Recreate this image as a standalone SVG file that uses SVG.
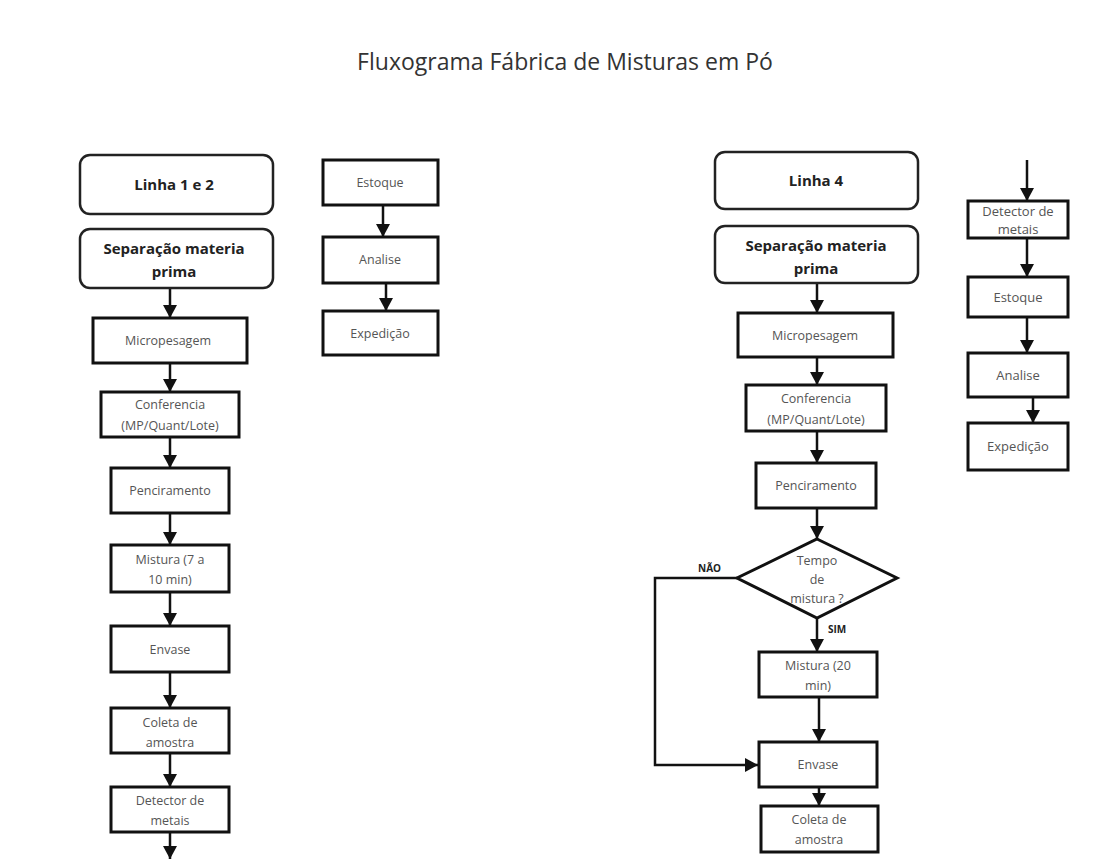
<svg xmlns="http://www.w3.org/2000/svg" width="1110" height="865" viewBox="0 0 1110 865">
<defs>
<style>
.box{fill:#fff;stroke:#111;stroke-width:3}
.rbox{fill:#fff;stroke:#222;stroke-width:2.5}
.t{font-family:"Open Sans","Liberation Sans",sans-serif;font-size:12.5px;fill:#555;text-anchor:middle}
.t2{font-family:"Open Sans","Liberation Sans",sans-serif;font-size:13px;fill:#555;text-anchor:middle}
.h{font-family:"Open Sans","Liberation Sans",sans-serif;font-size:15px;font-weight:bold;fill:#222;text-anchor:middle}
.lbl{font-family:"Open Sans","Liberation Sans",sans-serif;font-size:10px;font-weight:bold;fill:#222}
.c{fill:none;stroke:#111;stroke-width:2.5}
.title{font-family:"Open Sans","Liberation Sans",sans-serif;font-size:23px;fill:#333;text-anchor:middle}
</style>
<marker id="ah" markerUnits="userSpaceOnUse" markerWidth="14" markerHeight="14" refX="13" refY="7" orient="auto">
<path d="M0,0 L13,7 L0,14 Z" fill="#111"/>
</marker>
</defs>
<rect width="1110" height="865" fill="#fff"/>
<text class="title" x="565" y="70">Fluxograma Fábrica de Misturas em Pó</text>

<g id="connectors">
<line class="c" x1="170" y1="288" x2="170" y2="318" marker-end="url(#ah)"/>
<line class="c" x1="170" y1="363" x2="170" y2="392" marker-end="url(#ah)"/>
<line class="c" x1="170" y1="437" x2="170" y2="468" marker-end="url(#ah)"/>
<line class="c" x1="170" y1="513" x2="170" y2="545" marker-end="url(#ah)"/>
<line class="c" x1="170" y1="592" x2="170" y2="626" marker-end="url(#ah)"/>
<line class="c" x1="170" y1="672" x2="170" y2="708" marker-end="url(#ah)"/>
<line class="c" x1="170" y1="753" x2="170" y2="787" marker-end="url(#ah)"/>
<line class="c" x1="170" y1="832" x2="170" y2="859" marker-end="url(#ah)"/>

<line class="c" x1="383" y1="205" x2="383" y2="237" marker-end="url(#ah)"/>
<line class="c" x1="386" y1="283" x2="386" y2="311" marker-end="url(#ah)"/>

<line class="c" x1="817" y1="283" x2="817" y2="313" marker-end="url(#ah)"/>
<line class="c" x1="817" y1="357" x2="817" y2="385" marker-end="url(#ah)"/>
<line class="c" x1="817" y1="431" x2="817" y2="463" marker-end="url(#ah)"/>
<line class="c" x1="817" y1="508" x2="817" y2="539" marker-end="url(#ah)"/>
<line class="c" x1="817" y1="618" x2="817" y2="652" marker-end="url(#ah)"/>
<line class="c" x1="819" y1="697" x2="819" y2="742" marker-end="url(#ah)"/>
<line class="c" x1="819" y1="787" x2="819" y2="806" marker-end="url(#ah)"/>
<polyline class="c" points="737,578 655,578 655,765 758,765" marker-end="url(#ah)"/>

<line class="c" x1="1027" y1="160" x2="1027" y2="201" marker-end="url(#ah)"/>
<line class="c" x1="1027" y1="238" x2="1027" y2="277" marker-end="url(#ah)"/>
<line class="c" x1="1027" y1="317" x2="1027" y2="353" marker-end="url(#ah)"/>
<line class="c" x1="1033" y1="397" x2="1033" y2="423" marker-end="url(#ah)"/>
</g>

<g id="linha12">
<rect class="rbox" x="80" y="155" width="193" height="59" rx="10"/>
<text class="h" x="174" y="190">Linha 1 e 2</text>
</g>
<g id="sep1">
<rect class="rbox" x="80" y="229" width="193" height="59" rx="10"/>
<text class="h" x="174" y="254">Separação materia</text>
<text class="h" x="174" y="277">prima</text>
</g>
<g id="micro1">
<rect class="box" x="93" y="318" width="154" height="45"/>
<text class="t" x="168" y="345">Micropesagem</text>
</g>
<g id="conf1">
<rect class="box" x="101" y="392" width="138" height="45"/>
<text class="t" x="170" y="409">Conferencia</text>
<text class="t" x="170" y="430">(MP/Quant/Lote)</text>
</g>
<g id="pen1">
<rect class="box" x="111" y="468" width="118" height="45"/>
<text class="t" x="170" y="495">Penciramento</text>
</g>
<g id="mist1">
<rect class="box" x="111" y="545" width="118" height="47"/>
<text class="t" x="170" y="564">Mistura (7 a</text>
<text class="t" x="170" y="584">10 min)</text>
</g>
<g id="env1">
<rect class="box" x="111" y="626" width="118" height="46"/>
<text class="t" x="170" y="654">Envase</text>
</g>
<g id="col1">
<rect class="box" x="111" y="708" width="118" height="45"/>
<text class="t" x="170" y="727">Coleta de</text>
<text class="t" x="170" y="747">amostra</text>
</g>
<g id="det1">
<rect class="box" x="111" y="787" width="118" height="45"/>
<text class="t" x="170" y="805">Detector de</text>
<text class="t" x="170" y="825">metais</text>
</g>

<g id="est1">
<rect class="box" x="323" y="160" width="115" height="45"/>
<text class="t" x="380" y="187">Estoque</text>
</g>
<g id="ana1">
<rect class="box" x="323" y="237" width="115" height="46"/>
<text class="t" x="380" y="264">Analise</text>
</g>
<g id="exp1">
<rect class="box" x="323" y="311" width="115" height="44"/>
<text class="t" x="380" y="338">Expedição</text>
</g>

<g id="linha4">
<rect class="rbox" x="715" y="152" width="203" height="57" rx="10"/>
<text class="h" x="816" y="186">Linha 4</text>
</g>
<g id="sep4">
<rect class="rbox" x="715" y="226" width="203" height="57" rx="10"/>
<text class="h" x="816" y="251">Separação materia</text>
<text class="h" x="816" y="274">prima</text>
</g>
<g id="micro4">
<rect class="box" x="738" y="313" width="155" height="44"/>
<text class="t" x="815" y="340">Micropesagem</text>
</g>
<g id="conf4">
<rect class="box" x="746" y="385" width="140" height="46"/>
<text class="t" x="816" y="403">Conferencia</text>
<text class="t" x="816" y="424">(MP/Quant/Lote)</text>
</g>
<g id="pen4">
<rect class="box" x="756" y="463" width="120" height="45"/>
<text class="t" x="816" y="490">Penciramento</text>
</g>
<g id="dec4">
<polygon class="box" points="817,539 897,578 817,618 737,578"/>
<text class="t" x="817" y="565">Tempo</text>
<text class="t" x="817" y="584">de</text>
<text class="t" x="817" y="603">mistura ?</text>
</g>
<text class="lbl" x="698" y="572">NÃO</text>
<text class="lbl" x="828" y="633">SIM</text>
<g id="mist4">
<rect class="box" x="759" y="652" width="118" height="45"/>
<text class="t" x="818" y="670">Mistura (20</text>
<text class="t" x="818" y="690">min)</text>
</g>
<g id="env4">
<rect class="box" x="759" y="742" width="118" height="45"/>
<text class="t" x="818" y="769">Envase</text>
</g>
<g id="col4">
<rect class="box" x="761" y="806" width="117" height="46"/>
<text class="t" x="819" y="824">Coleta de</text>
<text class="t" x="819" y="844">amostra</text>
</g>

<g id="det4">
<rect class="box" x="968" y="201" width="100" height="37"/>
<text class="t2" x="1018" y="216">Detector de</text>
<text class="t2" x="1018" y="234">metais</text>
</g>
<g id="est4">
<rect class="box" x="968" y="277" width="100" height="40"/>
<text class="t2" x="1018" y="302">Estoque</text>
</g>
<g id="ana4">
<rect class="box" x="968" y="353" width="100" height="44"/>
<text class="t2" x="1018" y="380">Analise</text>
</g>
<g id="exp4">
<rect class="box" x="968" y="423" width="100" height="47"/>
<text class="t2" x="1018" y="451">Expedição</text>
</g>
</svg>
